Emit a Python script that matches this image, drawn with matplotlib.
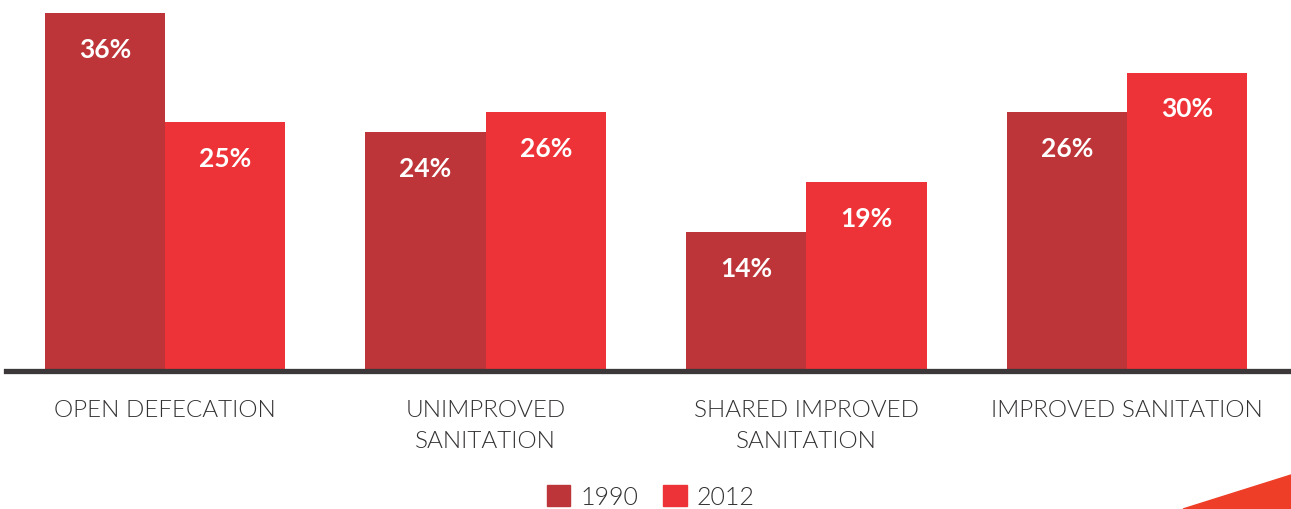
import matplotlib
matplotlib.use("Agg")
import numpy as np
import matplotlib.pyplot as plt
from matplotlib.patches import Patch, Polygon

# sanitation coverage, 1990 vs 2012
categories = ["OPEN DEFECATION", "UNIMPROVED\nSANITATION",
              "SHARED IMPROVED\nSANITATION", "IMPROVED SANITATION"]
years = ["1990", "2012"]
vals_1990 = [36, 24, 14, 26]
vals_2012 = [25, 26, 19, 30]

dark = "#BD3538"
light = "#EE3338"
txt = "#333032"

plt.rcParams["font.family"] = ["Lato", "DejaVu Sans"]

W, H = 1291, 510
fig = plt.figure(figsize=(W / 100, H / 100), dpi=100)
# axes spans from the baseline up to the top edge
base_px = 372
ax = fig.add_axes([6 / W, (H - base_px) / H, 1 - 6 / W, base_px / H])

x = np.arange(len(categories))
bw = 0.375
b1 = ax.bar(x - bw / 2, vals_1990, bw, color=dark, linewidth=0)
b2 = ax.bar(x + bw / 2, vals_2012, bw, color=light, linewidth=0)

ax.set_xlim(-0.496, 3.511)
ax.set_ylim(0, base_px / 9.95)
ax.axhline(0, color="#3C3739", lw=3.8, zorder=5, clip_on=False)
ax.axis("off")

for bars, vals in ((b1, vals_1990), (b2, vals_2012)):
    for r, v in zip(bars, vals):
        ax.text(r.get_x() + r.get_width() / 2, v - 3.6, f"{v}%",
                ha="center", va="center", color="white",
                fontsize=19, fontweight="bold")

for xi, c in zip(x, categories):
    ax.text(xi, -2.8, c, ha="center", va="top", color=txt,
            fontsize=17.5, fontweight=300, linespacing=1.62,
            clip_on=False)

handles = [Patch(color=dark, label=years[0]), Patch(color=light, label=years[1])]
fig.legend(handles=handles, loc="center", ncol=2, frameon=False,
           bbox_to_anchor=(0.504, 0.024), labelcolor=txt, borderpad=0,
           handlelength=0.95, handleheight=0.95, handletextpad=0.4,
           columnspacing=1.0, prop={"weight": 300, "size": 18})

# decorative corner triangle
fig.patches.append(Polygon([(1183 / W, 0), (1, 34 / H), (1, 0)],
                           closed=True, transform=fig.transFigure,
                           color="#EE3E27"))

fig.savefig("out.png", dpi=100)
